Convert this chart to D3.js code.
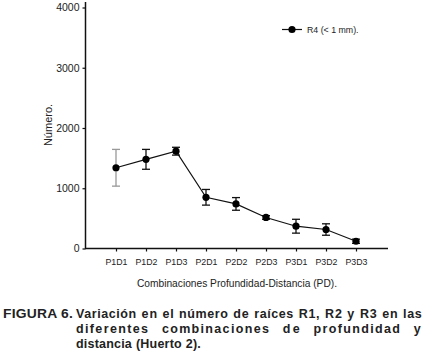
<!DOCTYPE html>
<html>
<head>
<meta charset="utf-8">
<script src="https://cdn.jsdelivr.net/npm/d3@7"></script>
<style>
  body { margin: 0; background: #fff; }
  svg { display: block; font-family: "Liberation Sans", Arial, sans-serif; }
</style>
</head>
<body>
<div id="chart"></div>
<script>
let categories = ["P1D1", "P1D2", "P1D3", "P2D1", "P2D2", "P2D3", "P3D1", "P3D2", "P3D3"];
let means = [1340, 1480, 1615, 850, 740, 515, 370, 315, 120];
let errors = [305, 165, 65, 130, 105, 30, 115, 95, 35];
let yTicks = [0, 1000, 2000, 3000, 4000];
let seriesName = "R4 (< 1 mm).";

let width = 427, height = 353;

let svg = d3.select("#chart").append("svg")
    .attr("width", width)
    .attr("height", height);

// x positions: one slot of padding on each side of the categories
let x = d3.scaleLinear().domain([0, categories.length + 1]).range([86, 386]);
let y = d3.scaleLinear().domain([0, 4000]).range([248.5, 7.5]);

// y axis
let yAxis = svg.append("g")
    .attr("transform", "translate(85.5,0)")
    .call(d3.axisLeft(y).tickValues(yTicks).tickFormat(d3.format("d"))
        .tickSize(3).tickPadding(3));
yAxis.select(".domain").remove();
yAxis.selectAll("line").attr("stroke", "#111").attr("stroke-width", 1.2);
yAxis.selectAll("text").attr("font-size", 10.5).attr("fill", "#222")
    .attr("font-family", "Liberation Sans, Arial, sans-serif");

// x axis
let xAxis = svg.append("g")
    .attr("transform", "translate(0,248.5)")
    .call(d3.axisBottom(x).tickValues(d3.range(1, categories.length + 1))
        .tickFormat(function(d) { return categories[d - 1]; })
        .tickSize(3).tickPadding(7));
xAxis.select(".domain").remove();
xAxis.selectAll("line").attr("stroke", "#111").attr("stroke-width", 1.2);
xAxis.selectAll("text").attr("font-size", 8.8).attr("fill", "#222")
    .attr("font-family", "Liberation Sans, Arial, sans-serif");

// axis lines
svg.append("line")
    .attr("x1", 85.5).attr("x2", 85.5).attr("y1", 2).attr("y2", 249)
    .attr("stroke", "#111").attr("stroke-width", 1.5);
svg.append("line")
    .attr("x1", 85).attr("x2", 388).attr("y1", 248.5).attr("y2", 248.5)
    .attr("stroke", "#111").attr("stroke-width", 1.5);

// series line
let line = d3.line()
    .x(function(d, i) { return x(i + 1); })
    .y(function(d) { return y(d); });

svg.append("path")
    .datum(means)
    .attr("d", line)
    .attr("fill", "none")
    .attr("stroke", "#111")
    .attr("stroke-width", 1.2);

// error bars
let eb = svg.selectAll(".err")
    .data(means)
    .enter().append("g")
    .attr("class", "err")
    .attr("stroke", function(d, i) { return i === 0 ? "#999" : "#111"; })
    .attr("stroke-width", 1.3);

eb.append("line")
    .attr("x1", function(d, i) { return x(i + 1); })
    .attr("x2", function(d, i) { return x(i + 1); })
    .attr("y1", function(d, i) { return y(d + errors[i]); })
    .attr("y2", function(d, i) { return y(d - errors[i]); });
eb.append("line")
    .attr("x1", function(d, i) { return x(i + 1) - 4; })
    .attr("x2", function(d, i) { return x(i + 1) + 4; })
    .attr("y1", function(d, i) { return y(d + errors[i]); })
    .attr("y2", function(d, i) { return y(d + errors[i]); });
eb.append("line")
    .attr("x1", function(d, i) { return x(i + 1) - 4; })
    .attr("x2", function(d, i) { return x(i + 1) + 4; })
    .attr("y1", function(d, i) { return y(d - errors[i]); })
    .attr("y2", function(d, i) { return y(d - errors[i]); });

// markers
svg.selectAll(".pt")
    .data(means)
    .enter().append("circle")
    .attr("class", "pt")
    .attr("cx", function(d, i) { return x(i + 1); })
    .attr("cy", function(d) { return y(d); })
    .attr("r", 3.6)
    .attr("fill", "#000");

// legend
svg.append("line")
    .attr("x1", 282).attr("x2", 302).attr("y1", 29.5).attr("y2", 29.5)
    .attr("stroke", "#111").attr("stroke-width", 1.2);
svg.append("circle")
    .attr("cx", 292).attr("cy", 29.5).attr("r", 3.6).attr("fill", "#000");
svg.append("text")
    .attr("x", 307).attr("y", 33)
    .attr("font-size", 8.8).attr("fill", "#222")
    .text(seriesName);

// axis titles
svg.append("text")
    .attr("transform", "translate(52,125) rotate(-90)")
    .attr("text-anchor", "middle")
    .attr("font-size", 11).attr("fill", "#222")
    .text("Número.");

svg.append("text")
    .attr("x", 237).attr("y", 287)
    .attr("text-anchor", "middle")
    .attr("font-size", 10.5).attr("fill", "#222")
    .attr("textLength", 200).attr("lengthAdjust", "spacingAndGlyphs")
    .text("Combinaciones Profundidad-Distancia (PD).");

// caption, justified word by word
let capLines = [
    { y: 318, words: "Variación en el número de raíces R1, R2 y R3 en las".split(" "), justify: true },
    { y: 333, words: "diferentes combinaciones de profundidad y".split(" "), justify: true },
    { y: 347.5, words: "distancia (Huerto 2).".split(" "), justify: false }
];

let cap = svg.append("g")
    .attr("font-size", 12.5).attr("font-weight", "bold").attr("fill", "#222")
    .attr("letter-spacing", 0.2);

cap.append("text").attr("x", 3).attr("y", 318)
    .attr("textLength", 70).attr("lengthAdjust", "spacingAndGlyphs")
    .text("FIGURA 6.");

capLines.forEach(function(l) {
    let left = 76, right = 422;
    let nodes = l.words.map(function(w) {
        return cap.append("text").attr("y", l.y).text(w);
    });
    let widths = nodes.map(function(n) { return n.node().getComputedTextLength(); });
    let total = d3.sum(widths);
    let gap = 4;
    if (l.justify) {
        // share the slack between letter spacing and word gaps
        let slack = right - left - total - 4 * (nodes.length - 1);
        let letters = d3.sum(l.words, function(w) { return w.length; });
        let perLetter = Math.max(0, slack * 0.5 / letters);
        widths = widths.map(function(w, i) { return w + perLetter * l.words[i].length; });
        nodes.forEach(function(n, i) {
            if (perLetter > 0.05) n.attr("textLength", widths[i]).attr("lengthAdjust", "spacing");
        });
        gap = (right - left - d3.sum(widths)) / (nodes.length - 1);
    }
    let cx = left;
    nodes.forEach(function(n, i) {
        n.attr("x", cx);
        cx += widths[i] + gap;
    });
});
</script>
</body>
</html>
